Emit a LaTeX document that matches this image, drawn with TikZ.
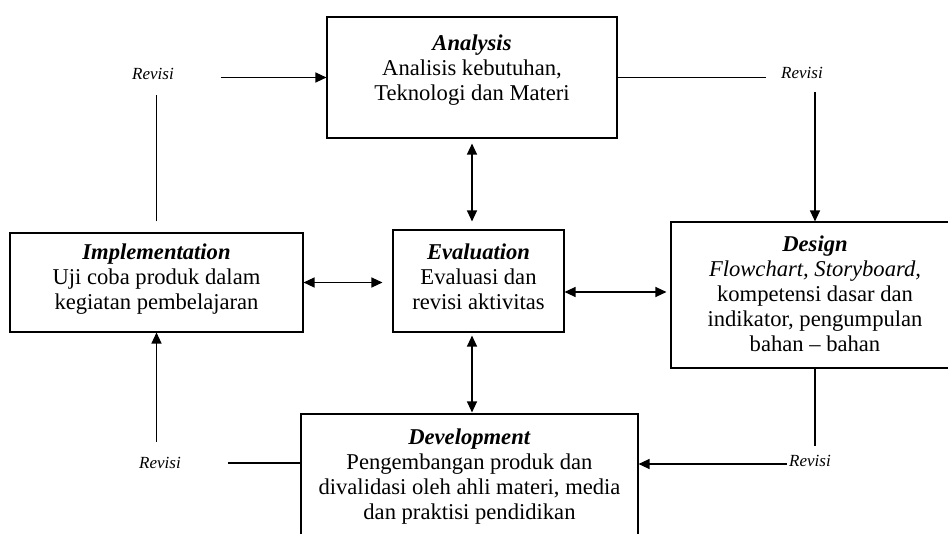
\documentclass[tikz,border=0pt]{standalone}
\usepackage{fontspec}
\setmainfont{Liberation Serif}
\usetikzlibrary{arrows.meta,positioning}

\begin{document}
\begin{tikzpicture}[x=1pt, y=-1pt,
    stagebox/.style={draw, line width=1.1pt, inner sep=0pt},
    stagetext/.style={align=center, inner sep=0pt, font=\fontsize{22.6}{25}\selectfont},
    revisi/.style={font=\fontsize{17}{19}\selectfont\itshape, inner sep=1pt},
    link/.style={line width=1.2pt},
    flow/.style={link, -{Triangle[length=11pt, width=10pt]}},
    both/.style={link, {Triangle[length=11pt, width=10pt]}-{Triangle[length=11pt, width=10pt]}}]
  \useasboundingbox (0,0) rectangle (948,534);
  \clip (0,0) rectangle (948,534);
  % stages
  \node[stagebox, minimum width=290pt, minimum height=121pt] (analysis) at (472,77.5) {};
  \node[stagebox, minimum width=293pt, minimum height=99pt] (implementation) at (156.5,282.5) {};
  \node[stagebox, minimum width=171pt, minimum height=102pt] (evaluation) at (478.5,281) {};
  \node[stagebox, minimum width=288pt, minimum height=146pt] (design) at (815,295) {};
  \node[stagebox, minimum width=337pt, minimum height=140pt] (development) at (469.5,484) {};
  \node[stagetext, below=18pt of analysis.north] (analysis-txt)
    {\textbf{\textit{Analysis}}\\ Analisis kebutuhan,\\ Teknologi dan Materi};
  \node[stagetext, below=11pt of implementation.north] (implementation-txt)
    {\textbf{\textit{Implementation}}\\ Uji coba produk dalam\\ kegiatan pembelajaran};
  \node[stagetext, below=14pt of evaluation.north] (evaluation-txt)
    {\textbf{\textit{Evaluation}}\\ Evaluasi dan\\ revisi aktivitas};
  \node[stagetext, below=14pt of design.north] (design-txt)
    {\textbf{\textit{Design}}\\ \textit{Flowchart, Storyboard,}\\ kompetensi dasar dan\\ indikator, pengumpulan\\ bahan -- bahan};
  \node[stagetext, below=15pt of development.north] (development-txt)
    {\textbf{\textit{Development}}\\ Pengembangan produk dan\\ divalidasi oleh ahli materi, media\\ dan praktisi pendidikan};
  % revisi labels
  \node[revisi] (revisi-a) at (153,74) {Revisi};
  \node[revisi] (revisi-b) at (802,73) {Revisi};
  \node[revisi] (revisi-c) at (810,461) {Revisi};
  \node[revisi] (revisi-d) at (160,463) {Revisi};
  % revision loop
  \draw[link, shorten <=11pt, shorten >=14pt] (implementation.north) -- (implementation.north |- revisi-a.south);
  \draw[flow, shorten <=46pt] (revisi-a.east |- analysis.west) -- (analysis.west);
  \draw[link, shorten >=14pt] (analysis.east) -- (revisi-b.west |- analysis.east);
  \draw[flow, shorten <=12pt] (revisi-b.south -| design.north) -- (design.north);
  \draw[link, shorten >=8pt] (design.south) -- (design.south |- revisi-c.north);
  \draw[flow, shorten <=1pt] ([yshift=-3pt]revisi-c.west) -- ([yshift=-3pt]revisi-c.west -| development.east);
  \draw[link, shorten <=46pt] (revisi-d.east) -- (revisi-d.east -| development.west);
  \draw[flow, shorten <=14pt] (revisi-d.north -| implementation.south) -- (implementation.south);
  % evaluation links
  \draw[both, shorten <=5pt, shorten >=8pt] (analysis.south) -- (analysis.south |- evaluation.north);
  \draw[both, shorten >=10pt] (implementation.east) -- (implementation.east -| evaluation.west);
  \draw[both, shorten >=4pt] ([yshift=3pt]evaluation.east |- design.west) -- ([yshift=3pt]design.west);
  \draw[both, shorten <=3pt, shorten >=1pt] (analysis.south |- evaluation.south) -- (analysis.south |- development.north);
\end{tikzpicture}
\end{document}
